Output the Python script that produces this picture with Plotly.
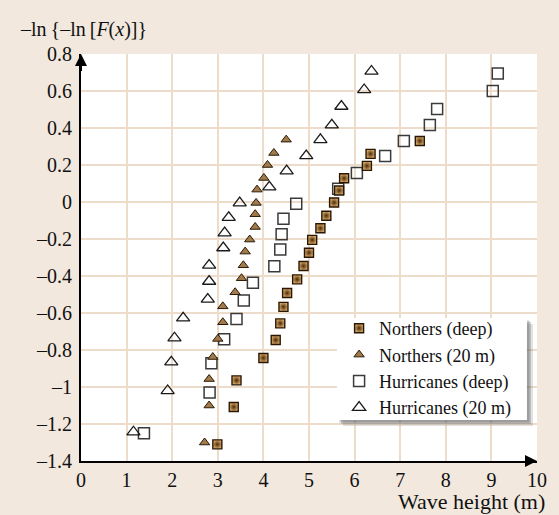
import plotly.graph_objects as go

# Data
northers_deep_x = [2.99, 3.35, 3.41, 4.00, 4.27, 4.37, 4.44, 4.52, 4.74, 4.88, 5.00, 5.07, 5.25, 5.38, 5.55, 5.66, 5.77, 6.27, 6.35, 7.43]
northers_deep_y = [-1.31, -1.108, -0.964, -0.843, -0.746, -0.656, -0.567, -0.492, -0.418, -0.346, -0.274, -0.205, -0.142, -0.074, -0.003, 0.062, 0.128, 0.195, 0.26, 0.33]

northers_20_x = [2.71, 2.81, 2.81, 2.89, 3.00, 3.11, 3.11, 3.38, 3.52, 3.56, 3.60, 3.70, 3.82, 3.82, 3.84, 3.86, 4.01, 4.09, 4.23, 4.50]
northers_20_y = [-1.30, -1.10, -0.957, -0.838, -0.740, -0.650, -0.564, -0.488, -0.412, -0.342, -0.268, -0.203, -0.135, -0.066, -0.005, 0.067, 0.13, 0.20, 0.265, 0.337]

hurr_deep_x = [1.38, 2.82, 2.86, 3.14, 3.41, 3.57, 3.77, 4.24, 4.37, 4.40, 4.44, 4.72, 5.64, 6.05, 6.67, 7.08, 7.65, 7.81, 9.03, 9.14]
hurr_deep_y = [-1.25, -1.03, -0.872, -0.742, -0.632, -0.533, -0.436, -0.347, -0.257, -0.175, -0.09, -0.009, 0.072, 0.157, 0.249, 0.33, 0.416, 0.503, 0.60, 0.694]

hurr_20_x = [1.15, 1.90, 1.98, 2.05, 2.24, 2.78, 2.81, 2.81, 3.12, 3.15, 3.24, 3.48, 4.13, 4.51, 4.94, 5.25, 5.50, 5.71, 6.21, 6.37]
hurr_20_y = [-1.243, -1.02, -0.865, -0.735, -0.627, -0.526, -0.429, -0.342, -0.248, -0.167, -0.084, -0.005, 0.081, 0.168, 0.25, 0.337, 0.416, 0.517, 0.607, 0.707]

x_ticks = [0, 1, 2, 3, 4, 5, 6, 7, 8, 9, 10]
y_ticks = [0.8, 0.6, 0.4, 0.2, 0, -0.2, -0.4, -0.6, -0.8, -1, -1.2, -1.4]
y_ticklabels = ["0.8", "0.6", "0.4", "0.2", "0", "–0.2", "–0.4", "–0.6", "–0.8", "–1", "–1.2", "–1.4"]

FONT = "Liberation Serif"
BG = "#f2e8de"
GRID = "#ecdcc9"

fig = go.Figure()
fig.add_trace(go.Scatter(
    x=hurr_deep_x, y=hurr_deep_y, mode="markers", name="Hurricanes (deep)",
    marker=dict(symbol="square-open", size=11, color="#3a3a3a", line=dict(width=1.5)),
    legendrank=3))
fig.add_trace(go.Scatter(
    x=hurr_20_x, y=hurr_20_y, mode="markers", name="Hurricanes (20 m)",
    marker=dict(symbol="triangle-up-open", size=11.5, color="#1a1a1a", line=dict(width=1.3)),
    legendrank=4))
fig.add_trace(go.Scatter(
    x=northers_deep_x, y=northers_deep_y, mode="markers", name="Northers (deep)",
    marker=dict(symbol="square", size=9, color="#d8aa6a",
                gradient=dict(type="radial", color="#4a2a04"),
                line=dict(width=1.4, color="#2a1703")),
    legendrank=1))
fig.add_trace(go.Scatter(
    x=northers_20_x, y=northers_20_y, mode="markers", name="Northers (20 m)",
    marker=dict(symbol="triangle-up", size=9, color="#a27a4c",
                line=dict(width=1, color="#2a1a06")),
    legendrank=2))

fig.update_layout(
    width=559, height=515,
    paper_bgcolor=BG, plot_bgcolor="white",
    margin=dict(l=81, r=22, t=54, b=54),
    font=dict(family=FONT, size=18, color="#111"),
    showlegend=True,
    legend=dict(x=0.566, y=0.2285, xanchor="left", yanchor="middle",
                bgcolor="rgba(0,0,0,0)", borderwidth=0, font=dict(size=18, family=FONT),
                tracegroupgap=0, itemsizing="trace"),
    xaxis=dict(range=[0, 10], tickvals=x_ticks, showgrid=True, gridcolor=GRID, gridwidth=2,
               zeroline=False, showline=True, linecolor="black", linewidth=2,
               ticks="", tickfont=dict(size=20), ticklabelstandoff=0),
    yaxis=dict(range=[-1.4, 0.8], tickvals=y_ticks, ticktext=y_ticklabels, showgrid=True,
               gridcolor=GRID, gridwidth=2, zeroline=False, showline=True, linecolor="black",
               linewidth=2, ticks="", tickfont=dict(size=20), ticklabelstandoff=3),
)

# legend box with soft shadow (paper coordinates)
lx0, lx1, ly0, ly1 = 0.5614, 0.978, 0.1007, 0.3514
dx, dy = 4 / 456, 4 / 407
for k, a in [(1.5, 0.18), (1.0, 0.28), (0.6, 0.3)]:
    fig.add_shape(type="rect", xref="paper", yref="paper",
                  x0=lx0 + dx * k, x1=lx1 + dx * k, y0=ly0 - dy * k, y1=ly1 - dy * k,
                  fillcolor=f"rgba(90,90,90,{a})", line=dict(width=0), layer="above")
fig.add_shape(type="rect", xref="paper", yref="paper", x0=lx0, x1=lx1, y0=ly0, y1=ly1,
              fillcolor="white", line=dict(width=0), layer="above")

# axis arrows
fig.add_annotation(x=0, y=0.8, ax=0, ay=0.7, xref="x", yref="y", axref="x", ayref="y",
                   showarrow=True, arrowhead=2, arrowsize=1.2, arrowwidth=2, arrowcolor="black", text="")
fig.add_annotation(x=10, y=-1.4, ax=9.8, ay=-1.4, xref="x", yref="y", axref="x", ayref="y",
                   showarrow=True, arrowhead=2, arrowsize=1.2, arrowwidth=2, arrowcolor="black", text="")

# axis titles
fig.add_annotation(text="–ln\u2009{–ln\u2009[<i>F</i>(<i>x</i>)]}", showarrow=False,
                   xref="paper", yref="paper", x=-0.138, y=1.061,
                   xanchor="left", yanchor="middle", font=dict(size=20, family=FONT))
fig.add_annotation(text="Wave height (m)", showarrow=False, xref="paper", yref="paper",
                   x=1.022, y=-0.1007, xanchor="right", yanchor="middle", font=dict(size=22, family=FONT))

fig.write_html("out.html", config={"displayModeBar": False},
               post_script="document.body.style.margin='0px';")
